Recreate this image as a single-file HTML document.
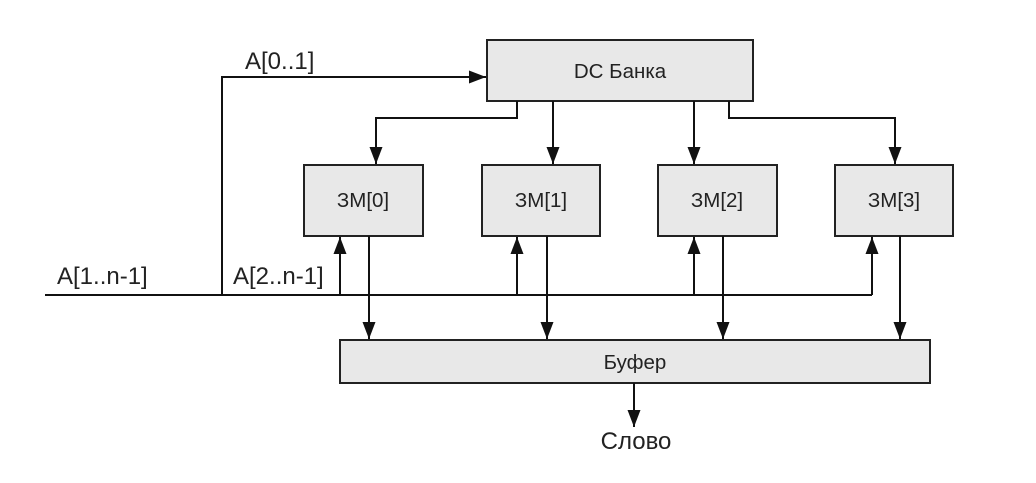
<!DOCTYPE html>
<html><head><meta charset="utf-8"><style>
html,body{margin:0;padding:0;background:#fff;}
text{font-family:"Liberation Sans",sans-serif;fill:#222;}
</style></head><body>
<svg width="1036" height="478" viewBox="0 0 1036 478" xmlns="http://www.w3.org/2000/svg">
<defs>
<marker id="a" markerWidth="17" markerHeight="13" refX="17" refY="6.5" orient="auto" markerUnits="userSpaceOnUse">
<path d="M0,0 L17,6.5 L0,13 Z" fill="#111"/></marker>
</defs>
<g stroke="#222" stroke-width="2" fill="#e8e8e8">
<rect x="487" y="40" width="266" height="61"/>
<rect x="304" y="165" width="119" height="71"/>
<rect x="482" y="165" width="118" height="71"/>
<rect x="658" y="165" width="119" height="71"/>
<rect x="835" y="165" width="118" height="71"/>
<rect x="340" y="340" width="590" height="43"/>
</g>
<g stroke="#111" stroke-width="2" fill="none">
<path d="M45,295 H872"/>
<path d="M222,295 V77 H486" marker-end="url(#a)"/>
<path d="M517,101 V118 H376 V164" marker-end="url(#a)"/>
<path d="M553,101 V164" marker-end="url(#a)"/>
<path d="M694,101 V164" marker-end="url(#a)"/>
<path d="M729,101 V118 H895 V164" marker-end="url(#a)"/>
<path d="M340,295 V237" marker-end="url(#a)"/>
<path d="M517,295 V237" marker-end="url(#a)"/>
<path d="M694,295 V237" marker-end="url(#a)"/>
<path d="M872,295 V237" marker-end="url(#a)"/>
<path d="M369,236 V339" marker-end="url(#a)"/>
<path d="M547,236 V339" marker-end="url(#a)"/>
<path d="M723,236 V339" marker-end="url(#a)"/>
<path d="M900,236 V339" marker-end="url(#a)"/>
<path d="M634,383 V427" marker-end="url(#a)"/>
</g>
<text x="245" y="69" font-size="24">A[0..1]</text>
<text x="57" y="284" font-size="24">A[1..n-1]</text>
<text x="233" y="284" font-size="24">A[2..n-1]</text>
<text x="620" y="78" font-size="20.5" text-anchor="middle">DC Банка</text>
<text x="363" y="207" font-size="20.5" text-anchor="middle">ЗМ[0]</text>
<text x="541" y="207" font-size="20.5" text-anchor="middle">ЗМ[1]</text>
<text x="717" y="207" font-size="20.5" text-anchor="middle">ЗМ[2]</text>
<text x="894" y="207" font-size="20.5" text-anchor="middle">ЗМ[3]</text>
<text x="635" y="369" font-size="20.5" text-anchor="middle">Буфер</text>
<text x="636" y="449" font-size="24" text-anchor="middle">Слово</text>
</svg>
</body></html>
